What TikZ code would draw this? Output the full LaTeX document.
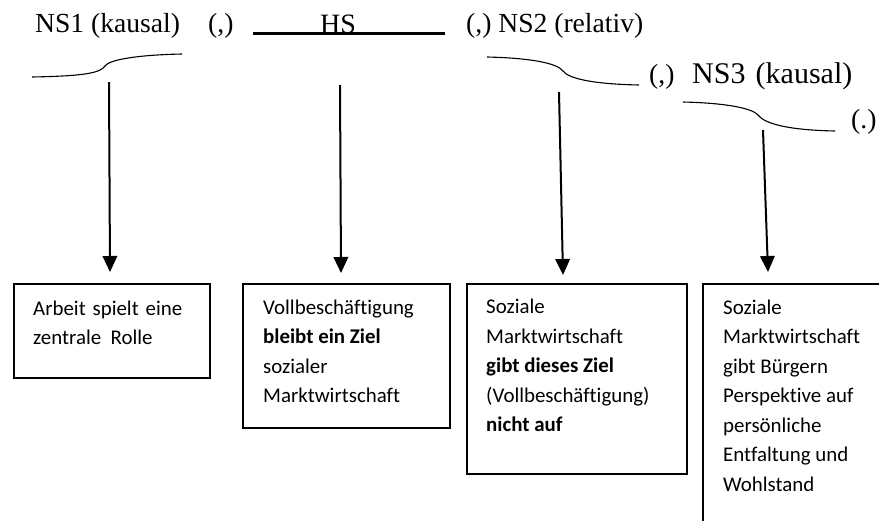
\documentclass[tikz,border=0pt]{standalone}
\usepackage{fontspec}
\setmainfont{Liberation Serif}
\newfontfamily\boxfont[Ligatures=NoCommon]{Carlito}
\usetikzlibrary{arrows.meta}
\begin{document}
\begin{tikzpicture}[x=1pt,y=-1pt,
  head/.style={font=\fontsize{27.6}{30}\selectfont, inner sep=0pt, anchor=base west},
  brace/.style={line width=1.1pt},
  pointer/.style={line width=2pt, -{Triangle[length=16pt,width=14.5pt]}},
  frame/.style={draw, line width=1.5pt, anchor=north west, inner sep=0pt},
  boxtext/.style={font=\boxfont\fontsize{20.9}{29.5}\selectfont, inner sep=0pt, anchor=base west},
]
\useasboundingbox (0,0) rectangle (879,520);
\clip (0,0) rectangle (879,520);

% sentence parts
\node[head] (ns1) at (35,32) {NS1 (kausal)};
\node[head] (k1) at (208,32) {(,)};
\node[head, font=\fontsize{28}{30}\selectfont] (hs) at (320,33) {HS};
\coordinate (hsl) at (253,33.5);
\coordinate (hsr) at (445,33.5);
\draw[line width=3pt] (hsl) -- (hsr);
\node[head] (ns2) at (466,32) {(,) NS2 (relativ)};
\node[head] (k3) at (649,83) {(,)};
\node[head, font=\fontsize{30}{32}\selectfont] (ns3) at (692,83) {NS3\hspace{0.34em}(kausal)};
\node[head] (pt) at (851,128) {(.)};

% half braces under the clauses
\draw[brace] (32,77) .. controls (85,76) and (100,73) .. (105,66)
                     .. controls (109,60) and (135,55) .. (182,54);
\draw[brace] (487,57) .. controls (530,58) and (557,63) .. (563,71)
                      .. controls (568,78) and (590,84) .. (639,85);
\draw[brace] (683,102) .. controls (725,103) and (752,108) .. (758,115)
                       .. controls (764,123) and (785,130) .. (835,131);

% boxes
\node[frame, minimum width=196pt, minimum height=94pt] (b1) at (13,283) {};
\node[frame, minimum width=207pt, minimum height=144pt] (b2) at (242,283) {};
\node[frame, minimum width=220pt, minimum height=190pt] (b3) at (466,283) {};
\node[frame, minimum width=200pt, minimum height=260pt] (b4) at (702,283) {};

\node[boxtext] (t1) at (33,315) {\begin{tabular}[t]{@{}l@{}}
  Arbeit\hspace{0.33em}spielt\hspace{0.33em}eine\\ zentrale\hspace{0.45em}Rolle\end{tabular}};
\node[boxtext] (t2) at (263,314) {\begin{tabular}[t]{@{}l@{}}
  Vollbeschäftigung\\ \textbf{bleibt ein Ziel}\\ sozialer\\ Marktwirtschaft\end{tabular}};
\node[boxtext] (t3) at (486,313.5) {\begin{tabular}[t]{@{}l@{}}
  Soziale\\ Marktwirtschaft\\ \textbf{gibt dieses Ziel}\\ (Vollbeschäftigung)\\ \textbf{nicht auf}\end{tabular}};
\node[boxtext] (t4) at (723,314) {\begin{tabular}[t]{@{}l@{}}
  Soziale\\ Marktwirtschaft\\ gibt Bürgern\\ Perspektive auf\\ persönliche\\ Entfaltung und\\ Wohlstand\end{tabular}};

% arrows from the braces down to the boxes
\coordinate (s1) at (109,82);  \coordinate (e1) at (110,272);
\coordinate (s2) at (340,85);  \coordinate (e2) at (341,273);
\coordinate (s3) at (559,92);  \coordinate (e3) at (563,275);
\coordinate (s4) at (763,130); \coordinate (e4) at (768,272);
\draw[pointer] (s1) -- (e1);
\draw[pointer] (s2) -- (e2);
\draw[pointer] (s3) -- (e3);
\draw[pointer] (s4) -- (e4);
\end{tikzpicture}
\end{document}
